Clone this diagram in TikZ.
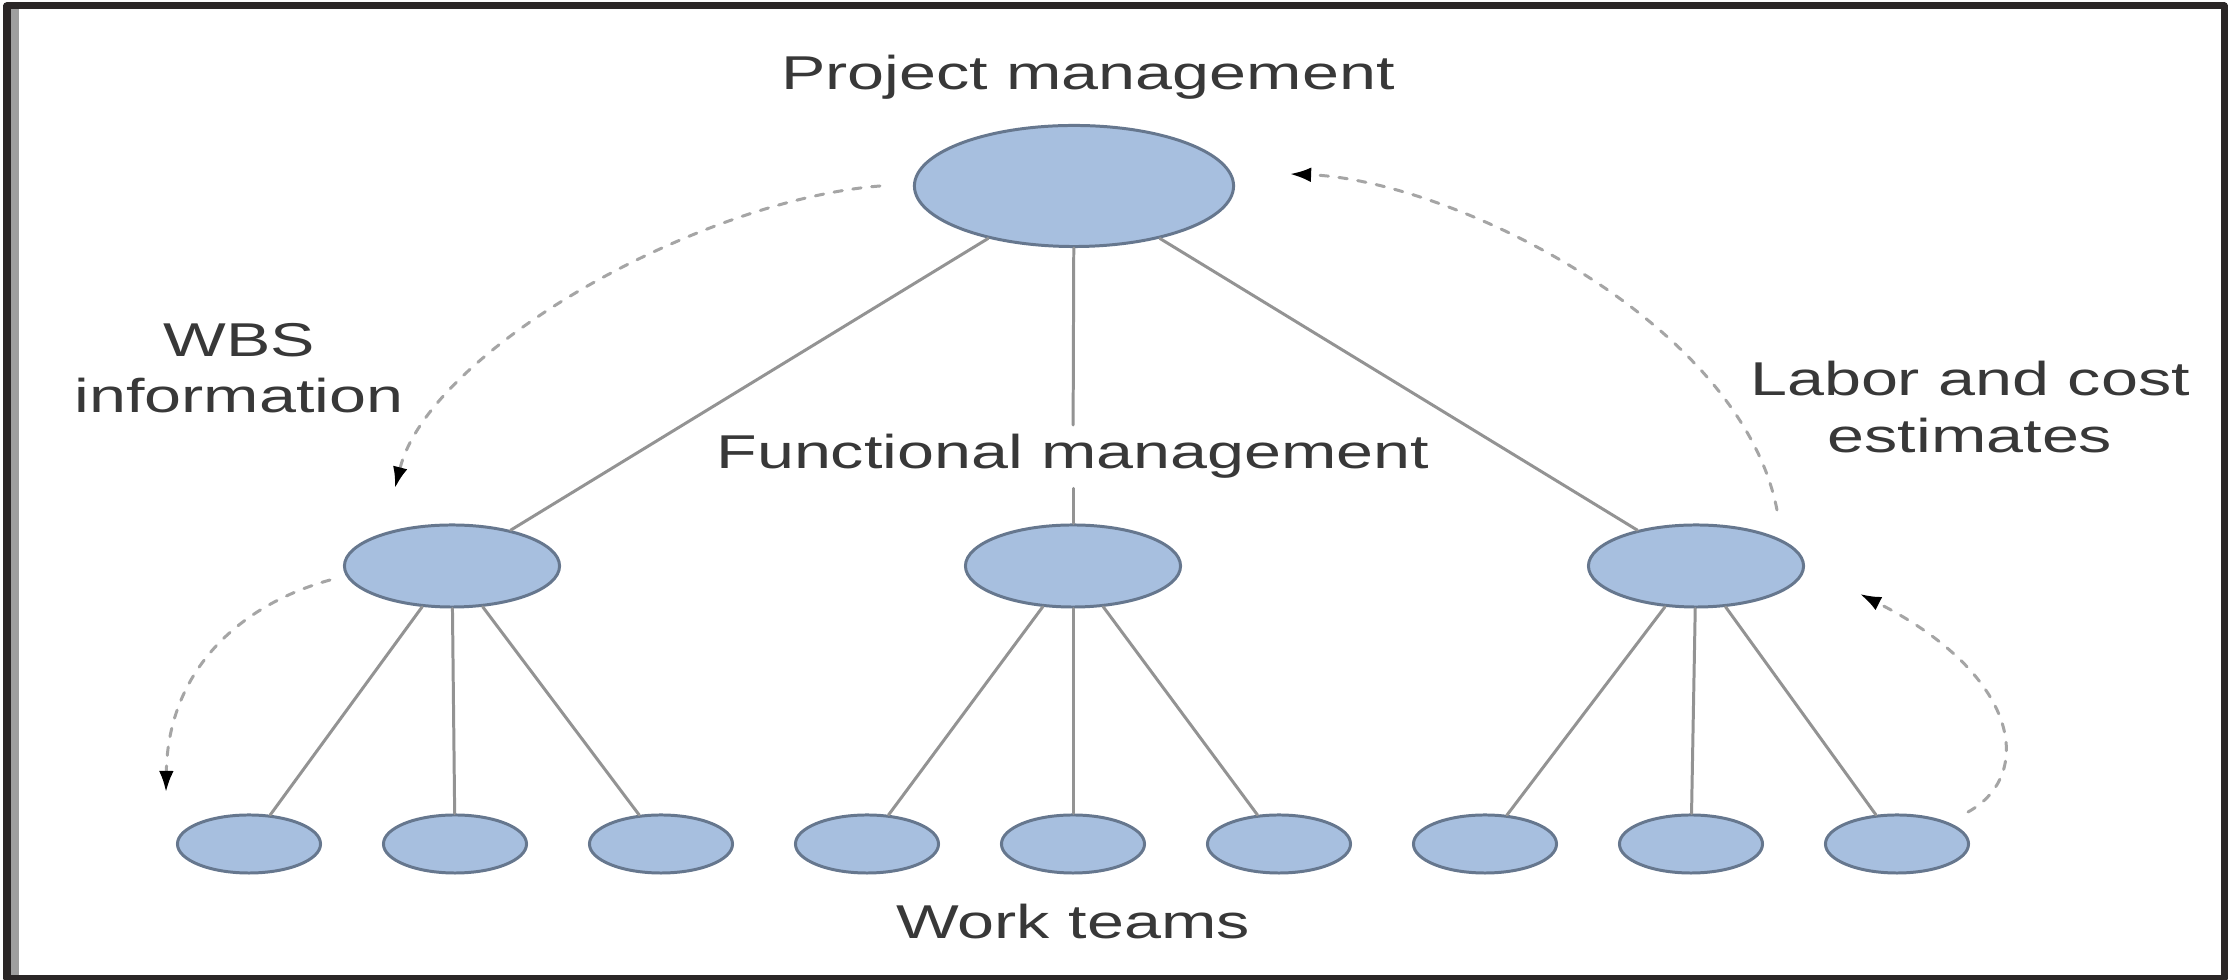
\documentclass[tikz,border=0pt]{standalone}
\usepackage{fontspec}
\setmainfont{Liberation Sans}[FakeStretch=1.4]
\usetikzlibrary{shapes.geometric,arrows.meta}
\definecolor{nodefill}{HTML}{A7BFDF}
\definecolor{nodeline}{HTML}{66778E}
\definecolor{linkgray}{HTML}{939393}
\definecolor{dashgray}{HTML}{A5A5A5}
\definecolor{framegray}{HTML}{2B2727}
\tikzset{
  box/.style={ellipse, draw=nodeline, fill=nodefill, line width=0.85pt, inner sep=0pt},
  link/.style={linkgray, line width=0.85pt},
  info/.style={dashgray, line width=0.85pt, dash pattern=on 2.4pt off 3pt,
    -{Latex[length=6pt,width=4.2pt,color=black]}},
  lbl/.style={font=\fontsize{13.5}{16}\selectfont, text=black!78, inner sep=0pt},
}
\begin{document}
\begin{tikzpicture}[x=0.01cm, y=-0.01cm, line join=round, line cap=round]
    \useasboundingbox (0,0) rectangle (2229,980);
    \fill[white] (0,0) rectangle (2229,980);
    % frame
    \fill[gray!75] (11,9) rectangle (19,977);
    \draw[framegray, line width=0.07cm, line cap=butt] (7,6) rectangle (2224,978.5);
    % ellipses
    \node[box, minimum width=3.19cm, minimum height=1.21cm] (pm) at (1074,186) {};
    \foreach \i/\x in {1/452, 2/1073, 3/1696}{
        \node[box, minimum width=2.15cm, minimum height=0.82cm] (fm\i) at (\x,566) {};}
    \foreach \i in {1,...,9}{
        \node[box, minimum width=1.43cm, minimum height=0.58cm] (wt\i) at ({249+206*(\i-1)},844) {};}
    % labels
    \node[lbl, anchor=base] (pmlabel) at (1088,90) {Project management};
    \node[lbl, anchor=base, inner sep=2.5pt] (fmlabel) at (1073,469) {Functional management};
    \node[lbl, anchor=base] (wtlabel) at (1073,939) {Work teams};
    \node[lbl, align=center] (wbs) at (239,368) {WBS\\information};
    \node[lbl, align=center] (labor) at (1970,407) {Labor and cost\\estimates};
    % tree lines
    \draw[link] (pm) -- (fm1);
    \draw[link] (pm) -- (fm3);
    \draw[link] (pm) -- (fmlabel);
    \draw[link] (fmlabel) -- (fm2);
    \foreach \p/\a/\b in {1/1/3, 2/4/6, 3/7/9}{
        \foreach \c in {\a,...,\b}{
            \draw[link] (fm\p) -- (wt\c);}}
    % information flow
    \coordinate (wbsstart) at (880,186);
    \coordinate (wbsend) at (395,488);
    \coordinate (teamstart) at (330,580);
    \coordinate (teamend) at (166,792);
    \coordinate (laborstart) at (1777,510);
    \coordinate (laborend) at (1290,174);
    \coordinate (reportstart) at (1968,812);
    \coordinate (reportend) at (1860,594);
    \draw[info] (wbsstart) .. controls (700,200) and (430,350) .. (wbsend);
    \draw[info] (teamstart) .. controls (240,605) and (168,670) .. (teamend);
    \draw[info] (laborstart) .. controls (1740,320) and (1450,180) .. (laborend);
    \draw[info] (reportstart) .. controls (2035,775) and (2020,675) .. (reportend);
\end{tikzpicture}
\end{document}
